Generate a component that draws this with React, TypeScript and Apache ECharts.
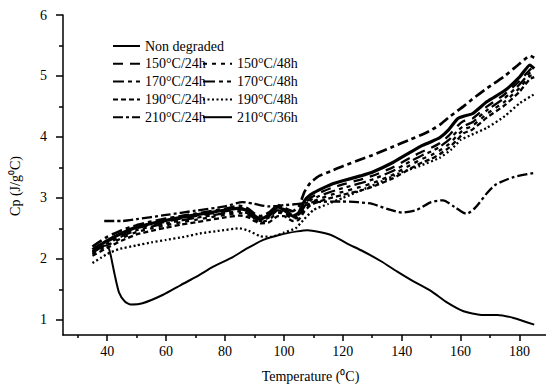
import React, { useEffect, useRef } from 'react';
import * as echarts from 'echarts';

// ---- Data ----
const xLabels = [40, 60, 80, 100, 120, 140, 160, 180];
const xMinorTicks = [30, 50, 70, 90, 110, 130, 150, 170];
const yLabels = [1, 2, 3, 4, 5, 6];
const yMinorTicks = [1.5, 2.5, 3.5, 4.5, 5.5];

const ndT = [35, 38, 40, 41, 42.5, 44, 46, 48, 52, 59, 65, 70.5, 76, 82, 87.5, 93, 99, 104.5, 108, 116, 121.5, 127, 133, 138.5, 144, 150, 155.5, 161, 167, 172.5, 178, 185];
const ndCp = [2.12, 2.2, 2.22, 2.1, 1.75, 1.45, 1.3, 1.25, 1.27, 1.41, 1.57, 1.71, 1.87, 2.01, 2.17, 2.31, 2.4, 2.45, 2.47, 2.39, 2.25, 2.12, 1.96, 1.79, 1.63, 1.47, 1.28, 1.14, 1.08, 1.08, 1.03, 0.92];

const clusterT = [35, 40, 45, 50, 55, 60, 65, 70, 75, 80, 85, 88, 90, 92, 95, 98, 100, 103, 105, 107, 109, 112, 116, 120, 126, 130, 137, 143, 147, 150, 153, 156, 159, 161, 164, 169, 175, 180, 183.5, 185];
const cp210_36 = [2.15, 2.30, 2.42, 2.52, 2.58, 2.63, 2.68, 2.72, 2.76, 2.80, 2.83, 2.78, 2.68, 2.65, 2.72, 2.85, 2.80, 2.70, 2.75, 2.95, 3.05, 3.13, 3.22, 3.28, 3.36, 3.42, 3.58, 3.75, 3.86, 3.92, 3.99, 4.12, 4.30, 4.34, 4.38, 4.58, 4.76, 4.98, 5.18, 5.12];
const cp170_24 = [2.20, 2.36, 2.47, 2.55, 2.61, 2.66, 2.70, 2.74, 2.78, 2.82, 2.87, 2.82, 2.74, 2.70, 2.76, 2.88, 2.84, 2.78, 2.85, 3.10, 3.25, 3.36, 3.44, 3.52, 3.63, 3.70, 3.84, 3.96, 4.04, 4.11, 4.20, 4.32, 4.43, 4.50, 4.62, 4.80, 5.00, 5.20, 5.33, 5.30];
const cp150_24 = [2.12, 2.28, 2.40, 2.50, 2.56, 2.61, 2.66, 2.70, 2.74, 2.78, 2.81, 2.80, 2.72, 2.66, 2.70, 2.82, 2.82, 2.72, 2.72, 2.90, 3.00, 3.08, 3.16, 3.22, 3.30, 3.36, 3.50, 3.66, 3.76, 3.82, 3.90, 4.02, 4.18, 4.26, 4.30, 4.50, 4.70, 4.92, 5.10, 5.15];
const cp170_48 = [2.10, 2.25, 2.37, 2.47, 2.53, 2.58, 2.63, 2.67, 2.71, 2.75, 2.78, 2.74, 2.66, 2.62, 2.68, 2.80, 2.76, 2.68, 2.70, 2.86, 2.96, 3.03, 3.10, 3.16, 3.24, 3.30, 3.44, 3.60, 3.70, 3.76, 3.84, 3.95, 4.10, 4.18, 4.24, 4.44, 4.64, 4.86, 5.05, 5.08];
const cp150_48 = [2.08, 2.22, 2.34, 2.44, 2.50, 2.55, 2.60, 2.64, 2.68, 2.72, 2.75, 2.72, 2.64, 2.60, 2.64, 2.76, 2.74, 2.66, 2.68, 2.82, 2.92, 2.98, 3.05, 3.10, 3.18, 3.24, 3.38, 3.54, 3.64, 3.70, 3.78, 3.88, 4.03, 4.12, 4.18, 4.38, 4.58, 4.80, 5.00, 5.02];
const cp190_24 = [2.05, 2.18, 2.30, 2.40, 2.46, 2.51, 2.56, 2.60, 2.64, 2.68, 2.71, 2.68, 2.62, 2.58, 2.60, 2.70, 2.70, 2.62, 2.64, 2.78, 2.88, 2.94, 3.00, 3.05, 3.12, 3.18, 3.32, 3.48, 3.58, 3.64, 3.72, 3.82, 3.96, 4.06, 4.12, 4.32, 4.52, 4.74, 4.95, 4.98];

const d48T = [35, 38, 40, 44, 50, 55, 60, 66, 72, 78, 85, 88, 92, 96, 100, 104, 106.5, 110, 115, 120, 130, 140, 146, 153, 157, 160, 163, 169, 175, 180, 185];
const cp190_48 = [1.93, 2.02, 2.08, 2.16, 2.22, 2.27, 2.31, 2.36, 2.42, 2.46, 2.5, 2.46, 2.37, 2.36, 2.43, 2.5, 2.63, 2.8, 2.9, 3.0, 3.2, 3.42, 3.52, 3.66, 3.8, 3.95, 4.02, 4.15, 4.34, 4.55, 4.7];

const d210T = [39, 45, 50, 60, 70, 80, 86, 90, 95, 100, 105, 110, 120, 125, 130, 135, 140, 145, 150, 154, 158, 162, 165, 169, 172, 178, 185];
const cp210_24 = [2.62, 2.62, 2.65, 2.72, 2.79, 2.86, 2.93, 2.9, 2.86, 2.88, 2.9, 2.93, 2.94, 2.93, 2.9, 2.82, 2.76, 2.8, 2.93, 2.96, 2.85, 2.74, 2.84, 3.08, 3.22, 3.34, 3.41];

const zip = (t: number[], v: number[]) => t.map((x, i) => [x, v[i]]);

const FONT = 'Liberation Serif';
const BLACK = '#000';

function mk(name: string, t: number[], v: number[], width: number, type: any, smooth = 0.15) {
  return {
    name,
    type: 'line',
    data: zip(t, v),
    symbol: 'none',
    showSymbol: false,
    smooth,
    lineStyle: { color: BLACK, width, type, cap: 'butt' },
    itemStyle: { color: BLACK },
  };
}

export default function App() {
  const ref = useRef<HTMLDivElement>(null);
  useEffect(() => {
    const chart = echarts.init(ref.current!, null, { renderer: 'svg' });
    const xBase = { type: 'value', min: 25, max: 189, splitLine: { show: false } };
    const yBase = { type: 'value', min: 0.75, max: 6, splitLine: { show: false } };
    const legendCommon = {
      orient: 'vertical', itemHeight: 14, itemGap: 3.8, padding: 0,
      textStyle: { fontFamily: FONT, fontSize: 14, color: BLACK },
      itemStyle: { opacity: 0 },
    };
    chart.setOption({
      animation: false,
      backgroundColor: '#fff',
      textStyle: { fontFamily: FONT, color: BLACK },
      grid: { left: 62, right: 0, top: 15, bottom: 51, containLabel: false },
      legend: [
        {
          ...legendCommon, left: 112, top: 39, itemWidth: 27,
          data: ['Non degraded', '150°C/24h', '170°C/24h', '190°C/24h', '210°C/24h'],
        },
        {
          ...legendCommon, left: 202, top: 56.8, itemWidth: 29,
          data: ['150°C/48h', '170°C/48h', '190°C/48h', '210°C/36h'],
        },
      ],
      xAxis: [
        {
          ...xBase,
          position: 'bottom',
          name: 'Temperature (⁰C)',
          nameLocation: 'middle',
          nameGap: 34,
          nameTextStyle: { fontFamily: FONT, fontSize: 14, color: BLACK, padding: [0, 0, 0, 12] },
          axisLine: { show: true, lineStyle: { color: BLACK, width: 1.5 } },
          axisTick: { show: true, length: 6, lineStyle: { color: BLACK, width: 1.5 }, customValues: xLabels },
          axisLabel: { fontFamily: FONT, fontSize: 14, color: BLACK, margin: 9, customValues: xLabels },
        },
        {
          ...xBase,
          position: 'bottom',
          axisLine: { show: false },
          axisTick: { show: true, length: 3, lineStyle: { color: BLACK, width: 1.5 }, customValues: xMinorTicks },
          axisLabel: { show: false },
        },
      ],
      yAxis: [
        {
          ...yBase,
          position: 'left',
          name: 'Cp (J/g⁰C)',
          nameLocation: 'middle',
          nameGap: 41,
          nameTextStyle: { fontFamily: FONT, fontSize: 14, color: BLACK, padding: [0, 22, 0, 0] },
          axisLine: { show: true, lineStyle: { color: BLACK, width: 1.5 } },
          axisTick: { show: true, length: 7, lineStyle: { color: BLACK, width: 1.5 }, customValues: yLabels },
          axisLabel: { fontFamily: FONT, fontSize: 14, color: BLACK, margin: 16, customValues: yLabels },
        },
        {
          ...yBase,
          position: 'left',
          axisLine: { show: false },
          axisTick: { show: true, length: 4, lineStyle: { color: BLACK, width: 1.5 }, customValues: yMinorTicks },
          axisLabel: { show: false },
        },
      ],
      series: [
        mk('Non degraded', ndT, ndCp, 2, 'solid', 0.2),
        mk('150°C/24h', clusterT, cp150_24, 2.3, [10, 7]),
        mk('150°C/48h', clusterT, cp150_48, 2.3, [4, 5]),
        mk('170°C/24h', clusterT, cp170_24, 2.7, [11, 4, 4, 4]),
        mk('170°C/48h', clusterT, cp170_48, 2.3, [12, 4, 4, 4, 4, 4]),
        mk('190°C/24h', clusterT, cp190_24, 2.3, [5, 3]),
        mk('190°C/48h', d48T, cp190_48, 2.3, [2, 2.5]),
        mk('210°C/24h', d210T, cp210_24, 2.3, [10, 3, 3, 3], 0.25),
        mk('210°C/36h', clusterT, cp210_36, 3.2, 'solid'),
      ],
    });
    return () => chart.dispose();
  }, []);
  return <div ref={ref} style={{ position: 'fixed', left: 0, top: 0, width: 546, height: 388 }} />;
}
